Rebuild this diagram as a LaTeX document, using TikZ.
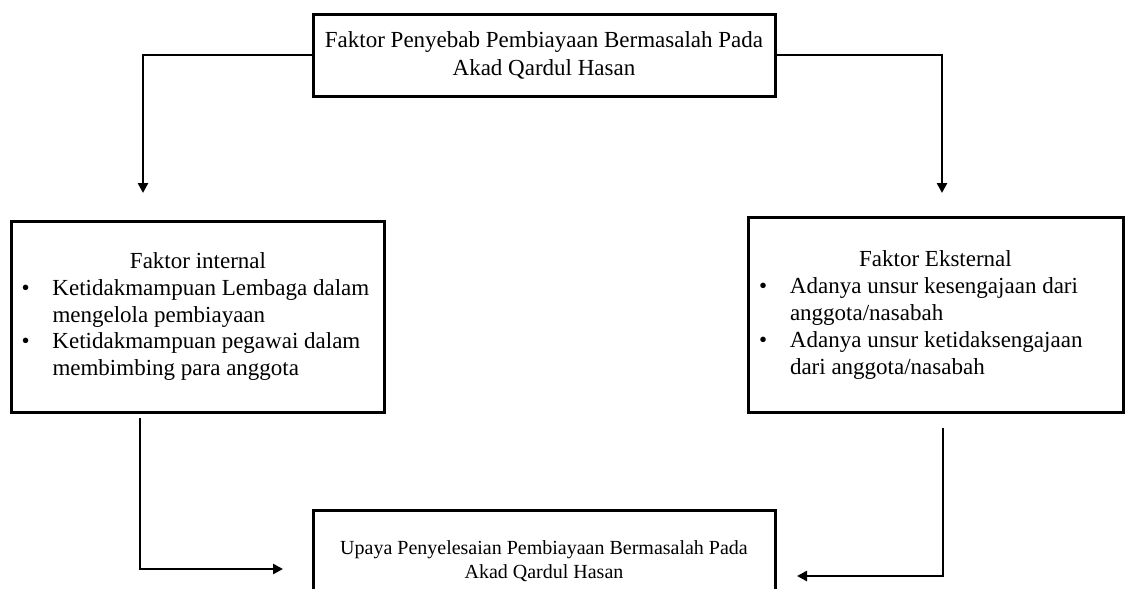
\documentclass[tikz,border=0pt]{standalone}
\usepackage{fontspec}
\setmainfont{Liberation Serif}
\usetikzlibrary{arrows.meta}
\newcommand{\butir}[2]{\par\noindent\hangindent=31pt\hangafter=1\makebox[31pt][l]{\textbullet}#1\hfil\break #2\par}

\begin{document}
\begin{tikzpicture}[x=1pt, y=-1pt, every node/.style={draw, line width=3pt, inner sep=0pt}]
	\tikzset{kotak/.style={minimum width=462pt, font=\fontsize{23}{28}\selectfont, align=center},
		faktor/.style={font=\fontsize{23}{27}\selectfont},
		panah/.style={line width=2.8pt, -{Triangle[length=10pt,width=10pt]}}}
	\clip (0,0) rectangle (1125,589);
	\fill[white] (0,0) rectangle (1125,589);
	\node[kotak, minimum height=82pt] (judul) at (544,55) {Faktor Penyebab Pembiayaan Bermasalah Pada\\Akad Qardul Hasan};
	\node[faktor, minimum width=373pt, minimum height=191pt] (internal) at (198,316.5)
		{\parbox{353pt}{\centering Faktor internal\par\raggedright
		\butir{Ketidakmampuan Lembaga dalam}{mengelola pembiayaan}
		\butir{Ketidakmampuan pegawai dalam}{membimbing para anggota}}};
	\node[faktor, minimum width=375pt, minimum height=195pt] (eksternal) at (935.5,314.5)
		{\parbox{353pt}{\centering Faktor Eksternal\par\raggedright
		\butir{Adanya unsur kesengajaan dari}{anggota/nasabah}
		\butir{Adanya unsur ketidaksengajaan}{dari anggota/nasabah}}};
	\node[kotak, minimum height=102pt, font=\fontsize{20}{24}\selectfont] (upaya) at (544,561) {Upaya Penyelesaian Pembiayaan Bermasalah Pada\\Akad Qardul Hasan};
	\coordinate (ki) at (143,193);
	\coordinate (ka) at (942,193);
	\coordinate (b1) at (140,418);
	\coordinate (b2) at (283,569);
	\coordinate (c1) at (943,428);
	\coordinate (c2) at (797,576);
	\foreach \from/\to in {judul.west/ki, judul.east/ka}
	\draw[panah] (\from) -| (\to);
	\foreach \from/\to in {b1/b2, c1/c2}
	\draw[panah] (\from) |- (\to);
\end{tikzpicture}
\end{document}
